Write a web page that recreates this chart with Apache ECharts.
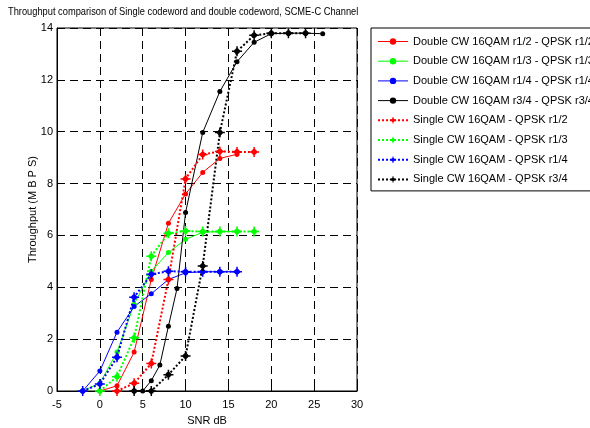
<!DOCTYPE html>
<html><head><meta charset="utf-8">
<script src="https://cdn.jsdelivr.net/npm/echarts@6/dist/echarts.min.js"></script>
<style>html,body{margin:0;padding:0;background:#fff}#c{width:590px;height:428px}</style>
</head><body><div id="c"></div>
<script>
const titleText = 'Throughput comparison of Single codeword and double codeword, SCME-C Channel';
const xName = 'SNR dB';
const yName = 'Throughput (M B P S)';
const xTicks = [-5, 0, 5, 10, 15, 20, 25, 30];
const yTicks = [0, 2, 4, 6, 8, 10, 12, 14];

const names = [
  'Double CW 16QAM r1/2 - QPSK r1/2',
  'Double CW 16QAM r1/3 - QPSK r1/3',
  'Double CW 16QAM r1/4 - QPSK r1/4',
  'Double CW 16QAM r3/4 - QPSK r3/4',
  'Single CW 16QAM - QPSK r1/2',
  'Single CW 16QAM - QPSK r1/3',
  'Single CW 16QAM - QPSK r1/4',
  'Single CW 16QAM - QPSK r3/4'
];

const dblRedX = [0, 2, 4, 6, 8, 10, 12, 14, 16];
const dblRedY = [0, 0.2, 1.5, 4.3, 6.47, 7.6, 8.43, 8.97, 9.13];
const dblGreenX = [-2, 0, 2, 4, 6, 8, 10, 12, 14, 16];
const dblGreenY = [0, 0.3, 1.5, 3.35, 4.62, 5.34, 5.85, 6.12, 6.15, 6.15];
const dblBlueX = [-2, 0, 2, 4, 6, 8, 10, 12, 14, 16];
const dblBlueY = [0, 0.77, 2.27, 3.26, 3.75, 4.3, 4.56, 4.6, 4.6, 4.6];
const dblBlackX = [4, 5, 6, 7, 8, 9, 10, 12, 14, 16, 18, 20, 22, 24, 26];
const dblBlackY = [0, 0, 0.4, 1.0, 2.5, 3.95, 6.88, 9.97, 11.55, 12.7, 13.45, 13.78, 13.8, 13.8, 13.78];

const sglRedX = [2, 4, 6, 8, 10, 12, 14, 16, 18];
const sglRedY = [0, 0.3, 1.06, 4.3, 8.18, 9.12, 9.24, 9.22, 9.22];
const sglGreenX = [0, 2, 4, 6, 8, 10, 12, 14, 16, 18];
const sglGreenY = [0, 0.55, 2.05, 5.2, 6.08, 6.17, 6.15, 6.15, 6.15, 6.15];
const sglBlueX = [-2, 0, 2, 4, 6, 8, 10, 12, 14, 16];
const sglBlueY = [0, 0.27, 1.3, 3.62, 4.5, 4.62, 4.6, 4.6, 4.6, 4.6];
const sglBlackX = [4, 6, 8, 10, 12, 14, 16, 18, 20, 22, 24];
const sglBlackY = [0, 0, 0.63, 1.35, 4.82, 9.97, 13.1, 13.72, 13.8, 13.8, 13.8];

const colors = ['#ff0000', '#00ff00', '#0000ff', '#000000'];

function pairs(xs, ys) { return xs.map((x, i) => [x, ys[i]]); }

const starPath = 'path://M0,-4.6 L4.6,0 L0,4.6 L-4.6,0 Z M-0.9,-6 L0.9,-6 L0.9,6 L-0.9,6 Z M-6,-0.9 L6,-0.9 L6,0.9 L-6,0.9 Z';

const dblData = [pairs(dblRedX, dblRedY), pairs(dblGreenX, dblGreenY), pairs(dblBlueX, dblBlueY), pairs(dblBlackX, dblBlackY)];
const sglData = [pairs(sglRedX, sglRedY), pairs(sglGreenX, sglGreenY), pairs(sglBlueX, sglBlueY), pairs(sglBlackX, sglBlackY)];

const series = [];
dblData.forEach((d, i) => {
  series.push({
    name: names[i], type: 'line', data: d,
    symbol: 'circle', symbolSize: 5, showAllSymbol: true,
    lineStyle: { color: colors[i], width: 1, type: 'solid' },
    itemStyle: { color: colors[i], borderWidth: 0 },
    animation: false, z: 3
  });
});
sglData.forEach((d, i) => {
  series.push({
    name: names[4 + i], type: 'line', data: d,
    symbol: starPath, symbolSize: 10, showAllSymbol: true,
    lineStyle: { color: colors[i], width: 2, type: [2, 2] },
    itemStyle: { color: colors[i], borderWidth: 0 },
    animation: false, z: 4
  });
});

const legendData = names.map((n, i) => ({
  name: n,
  lineStyle: { width: i < 4 ? 1 : 2 }
}));

const font = "'Liberation Sans', Arial, sans-serif";
const chart = echarts.init(document.getElementById('c'), null, { renderer: 'canvas' });
chart.setOption({
  backgroundColor: '#ffffff',
  textStyle: { fontFamily: font },
  graphic: [{
    type: 'text', left: 8, top: 6, scaleX: 0.845, z: 10,
    style: { text: titleText, font: "11px 'Liberation Sans', Arial, sans-serif", fill: '#000' }
  }],
  grid: { left: 57, top: 28, width: 300, height: 363, show: true, borderColor: '#000', borderWidth: 1, backgroundColor: 'transparent', containLabel: false, outerBoundsMode: 'none' },
  xAxis: {
    type: 'value', min: xTicks[0], max: xTicks[xTicks.length - 1], interval: 5,
    name: xName, nameLocation: 'middle', nameGap: 24, nameMoveOverlap: false,
    nameTextStyle: { fontSize: 11, color: '#000', fontFamily: font },
    axisLine: { show: true, onZero: false, lineStyle: { color: '#000', width: 1 } },
    axisTick: { show: true, inside: true, length: 4, lineStyle: { color: '#000' } },
    axisLabel: { fontSize: 11, color: '#000', margin: 8, fontFamily: font },
    splitLine: { show: true, lineStyle: { color: '#000', width: 1, type: [8, 5] } }
  },
  yAxis: {
    type: 'value', min: yTicks[0], max: yTicks[yTicks.length - 1], interval: 2,
    name: yName, nameLocation: 'middle', nameGap: 19, nameRotate: 90, nameMoveOverlap: false,
    nameTextStyle: { fontSize: 11, color: '#000', fontFamily: font },
    axisLine: { show: true, onZero: false, lineStyle: { color: '#000', width: 1 } },
    axisTick: { show: true, inside: true, length: 4, lineStyle: { color: '#000' } },
    axisLabel: { fontSize: 11, color: '#000', margin: 4, fontFamily: font },
    splitLine: { show: true, lineStyle: { color: '#000', width: 1, type: [8, 5] } }
  },
  legend: {
    orient: 'vertical', left: 371, top: 28,
    data: legendData,
    itemWidth: 30, itemHeight: 8, itemGap: 8.7,
    padding: [8, 6, 6, 6],
    borderColor: '#000', borderWidth: 1, backgroundColor: '#fff',
    textStyle: { fontSize: 11, color: '#000', fontFamily: font }
  },
  series: series
});
</script></body></html>
